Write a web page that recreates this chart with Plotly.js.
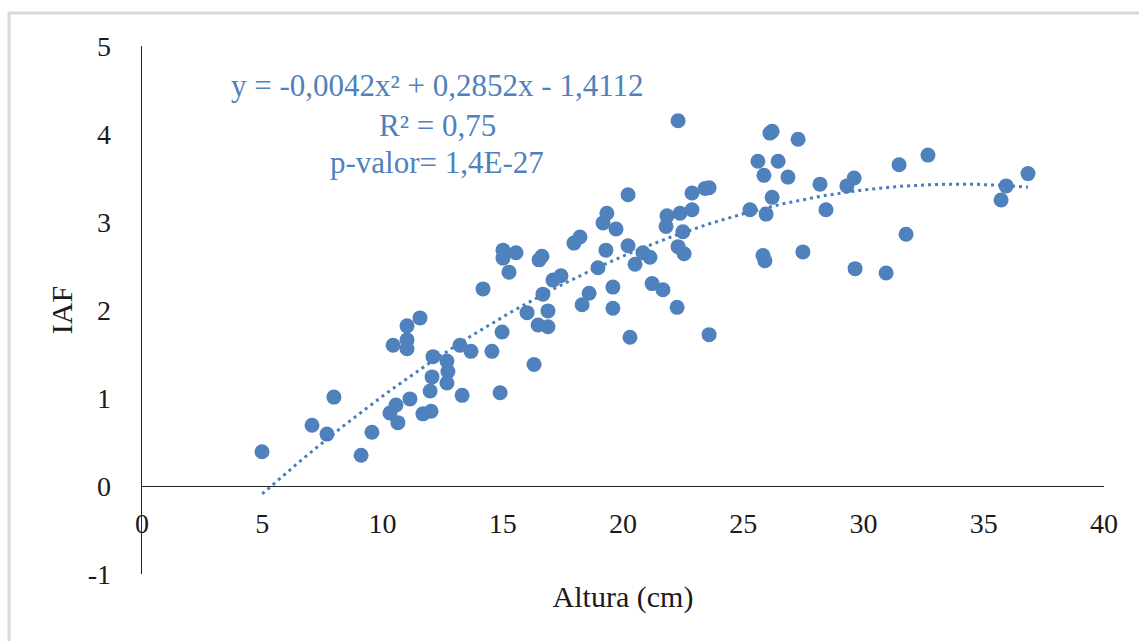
<!DOCTYPE html>
<html>
<head>
<meta charset="utf-8">
<script src="https://cdn.plot.ly/plotly-3.0.1.min.js"></script>
<style>
  html, body { margin: 0; padding: 0; background: #ffffff; }
  #chart { width: 1139px; height: 641px; }
</style>
</head>
<body>
<div id="chart"></div>
<script>
// Altura (cm)
const altura = [
  4.99, 7.07, 7.69, 7.98, 9.11, 9.56, 10.44, 10.31, 10.56, 10.64,
  11.14, 11.02, 11.02, 11.02, 11.56, 11.68, 12.02, 11.98, 12.10, 12.06,
  12.68, 12.72, 12.68, 13.22, 13.31, 13.68, 14.18, 14.55, 14.89, 14.97,
  15.01, 15.01, 15.26, 15.55, 16.01, 16.30, 16.47, 16.51, 16.63, 16.67,
  16.88, 16.88, 17.09, 17.42, 17.96, 18.21, 18.30, 18.59, 18.96, 19.17,
  19.33, 19.29, 19.58, 19.58, 19.71, 20.21, 20.21, 20.29, 20.50, 20.83,
  21.12, 21.21, 21.66, 21.79, 21.83, 22.25, 22.29, 22.29, 22.37, 22.49,
  22.54, 22.87, 22.87, 23.41, 23.58, 23.58, 25.28, 25.61, 25.82, 25.90,
  25.86, 25.95, 26.11, 26.20, 26.20, 26.45, 26.86, 27.28, 27.48, 28.19,
  28.44, 29.31, 29.61, 29.65, 30.94, 31.48, 31.77, 32.68, 35.72, 35.93,
  36.84
];
// IAF
const iaf = [
  0.39, 0.69, 0.59, 1.01, 0.35, 0.61, 1.60, 0.83, 0.92, 0.72,
  0.99, 1.82, 1.66, 1.56, 1.91, 0.82, 0.85, 1.08, 1.47, 1.24,
  1.42, 1.30, 1.17, 1.60, 1.03, 1.53, 2.24, 1.53, 1.06, 1.75,
  2.68, 2.59, 2.43, 2.65, 1.97, 1.38, 1.83, 2.57, 2.61, 2.18,
  1.81, 1.99, 2.34, 2.39, 2.76, 2.83, 2.06, 2.19, 2.48, 2.99,
  3.10, 2.68, 2.26, 2.02, 2.92, 3.31, 2.73, 1.69, 2.52, 2.65,
  2.60, 2.30, 2.23, 2.95, 3.07, 2.03, 2.72, 4.15, 3.10, 2.89,
  2.64, 3.33, 3.14, 3.38, 3.39, 1.72, 3.14, 3.69, 2.62, 2.56,
  3.53, 3.09, 4.01, 4.03, 3.28, 3.69, 3.51, 3.94, 2.66, 3.43,
  3.14, 3.41, 3.50, 2.47, 2.42, 3.65, 2.86, 3.76, 3.25, 3.41,
  3.55
];
// Polynomial trendline coefficients shown on the chart
const coefA = -0.0042, coefB = 0.2852, coefC = -1.4112;
const trendStart = 5.0, trendEnd = 36.84;
const xTicks = [0, 5, 10, 15, 20, 25, 30, 35, 40];
const yTicks = [-1, 0, 1, 2, 3, 4, 5];
const eqLines = ["y = -0,0042x² + 0,2852x - 1,4112", "R² = 0,75", "p-valor= 1,4E-27"];

const trendX = [], trendY = [];
for (let i = 0; i <= 200; i++) {
  const x = trendStart + (trendEnd - trendStart) * i / 200;
  trendX.push(x);
  trendY.push(coefA * x * x + coefB * x + coefC);
}

const blue = '#4F81BD';
const serif = 'Liberation Serif, Times New Roman, serif';

const data = [
  {
    x: altura, y: iaf, type: 'scatter', mode: 'markers', name: 'IAF',
    marker: { color: blue, size: 15 }, hoverinfo: 'x+y'
  },
  {
    x: trendX, y: trendY, type: 'scatter', mode: 'lines', name: 'Poly. (IAF)',
    line: { color: '#4a7ebb', width: 3, dash: '3px,4px' }, hoverinfo: 'skip'
  }
];

const eqY = [0.925, 0.850, 0.780];
const annotations = eqLines.map((t, i) => ({
  text: t, xref: 'paper', yref: 'paper', x: 0.3067, y: eqY[i],
  xanchor: 'center', yanchor: 'middle', showarrow: false,
  font: { family: serif, size: 31, color: blue }
}));

const layout = {
  width: 1139, height: 641,
  margin: { l: 142, r: 35, t: 46, b: 67 },
  paper_bgcolor: '#ffffff', plot_bgcolor: '#ffffff',
  showlegend: false,
  font: { family: serif, color: '#1a1a1a' },
  xaxis: {
    range: [0, 40], tickvals: xTicks, ticktext: xTicks.map(String),
    anchor: 'free', position: 1 / 6,
    showline: true, linecolor: '#262626', linewidth: 1.3,
    ticks: '', showgrid: false, zeroline: false,
    tickfont: { family: serif, size: 28, color: '#1a1a1a' },
    ticklabelstandoff: 12,
    title: { text: 'Altura (cm)', font: { family: serif, size: 30, color: '#1a1a1a' }, standoff: 48 }
  },
  yaxis: {
    range: [-1, 5], tickvals: yTicks, ticktext: yTicks.map(String),
    showline: true, linecolor: '#262626', linewidth: 1.3,
    ticks: '', showgrid: false, zeroline: false,
    tickfont: { family: serif, size: 28, color: '#1a1a1a' },
    ticklabelstandoff: 24,
    title: { text: 'IAF', font: { family: serif, size: 30, color: '#1a1a1a' }, standoff: 6 }
  },
  annotations: annotations,
  shapes: [
    {
      type: 'rect', xref: 'paper', yref: 'paper',
      x0: (9 - 142) / 962, x1: (1150 - 142) / 962,
      y0: (574 - 660) / 528, y1: (574 - 13) / 528,
      line: { color: '#d9d9d9', width: 3 }, fillcolor: 'rgba(0,0,0,0)', layer: 'below'
    }
  ]
};

Plotly.newPlot('chart', data, layout, { displayModeBar: false, staticPlot: true });
</script>
</body>
</html>
